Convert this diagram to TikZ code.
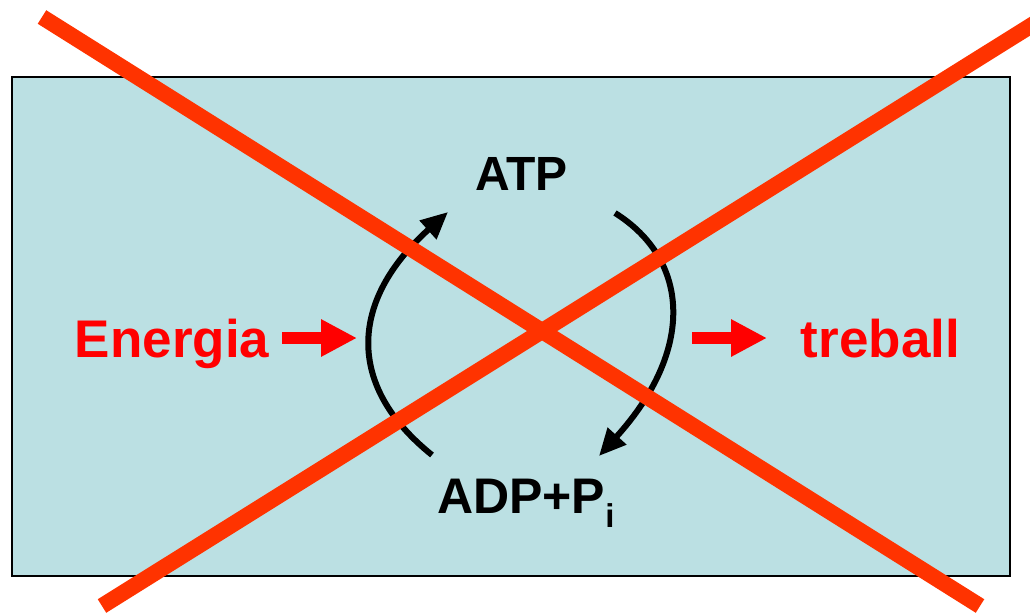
\documentclass[tikz,border=0pt]{standalone}
\usepackage{fontspec}
\setmainfont{Liberation Sans}
\usetikzlibrary{arrows.meta}
\definecolor{panel}{RGB}{187,224,227}
\definecolor{cross}{RGB}{255,51,0}
\definecolor{hot}{RGB}{255,0,0}
\tikzset{
  big/.style={inner sep=0pt, font=\bfseries\fontsize{53}{53}\selectfont},
  mol/.style={inner sep=0pt, font=\bfseries\fontsize{#1}{#1}\selectfont},
  cycle/.style={line width=6pt, -{Triangle[length=27pt,width=24pt]}},
  flow/.style={hot, line width=12pt, -{Triangle[length=36pt,width=35pt]}},
  strike/.style={cross, line width=16pt}
}
\begin{document}
\begin{tikzpicture}[x=1pt,y=-1pt]
\useasboundingbox (0,0) rectangle (1030,613);
% panel
\draw[fill=panel, line width=2pt] (11.5,76.5) rectangle (1009.5,576);
% labels
\node[big, text=hot, anchor=base] (energia) at (172,357) {Energia};
\node[big, text=hot, anchor=base] (treball) at (880.5,357) {treball};
\node[mol=48, anchor=base] (atp) at (521.5,190) {ATP};
\node[mol=50, anchor=base west] (adp) at (437,513) {ADP+P\raisebox{-14pt}{\fontsize{33}{33}\selectfont i}};
% cycle arrows
\coordinate (lstart) at (432,455);
\coordinate (lend) at (448,212);
\coordinate (rstart) at (615,213);
\coordinate (rend) at (599,456);
\draw[cycle] (lstart) .. controls (345,385) and (350,300) .. (lend);
\draw[cycle] (rstart) .. controls (690,260) and (695,350) .. (rend);
% energy in / work out
\coordinate (inA) at (282,338);
\coordinate (inB) at (357,338);
\coordinate (outA) at (692,338);
\coordinate (outB) at (767,338);
\draw[flow] (inA) -- (inB);
\draw[flow] (outA) -- (outB);
% crossing out
\coordinate (c1) at (42,17);
\coordinate (c2) at (980,606);
\coordinate (c3) at (102,606);
\coordinate (c4) at (1040,20);
\draw[strike] (c1) -- (c2);
\draw[strike] (c3) -- (c4);
\end{tikzpicture}
\end{document}
